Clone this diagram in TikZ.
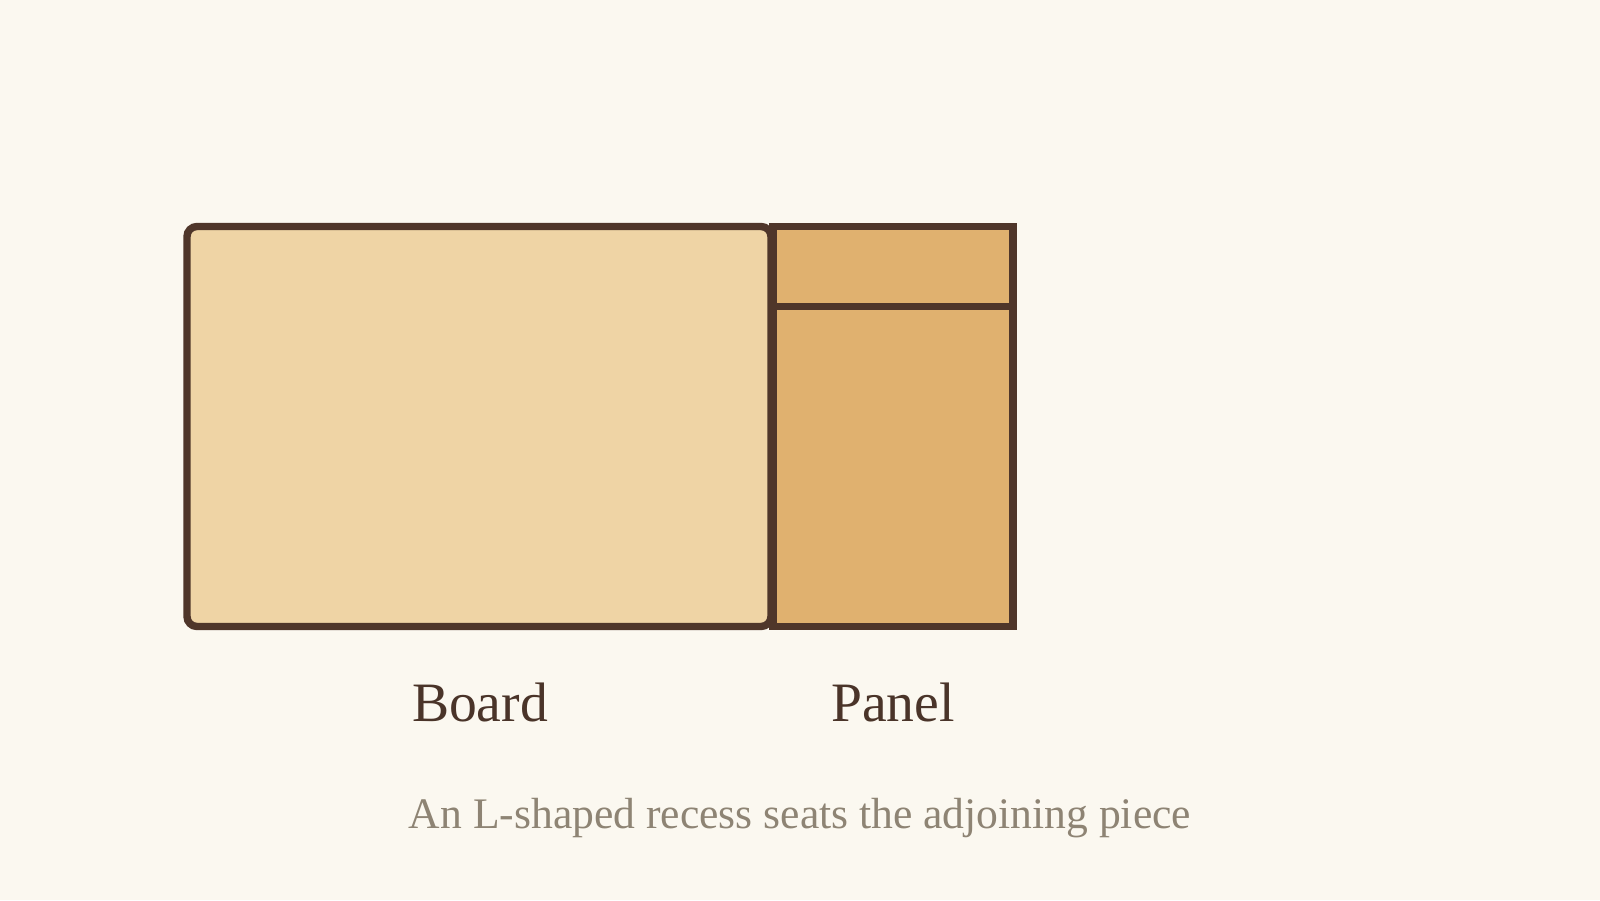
\documentclass[tikz,border=0pt]{standalone}
\usepackage{fontspec}
\setmainfont{Liberation Serif}
\usetikzlibrary{calc}
\definecolor{bgc}{HTML}{FBF8F0}
\definecolor{boardfill}{HTML}{EFD4A5}
\definecolor{panelfill}{HTML}{E0B16F}
\definecolor{strokec}{HTML}{4F362A}
\definecolor{labelc}{HTML}{4A3429}
\definecolor{capc}{HTML}{8E8474}
\begin{document}
\begin{tikzpicture}[x=0.5pt,y=-0.5pt,
  piece/.style={draw=strokec, line width=3.7pt, inner sep=0pt, outer sep=0pt},
  lbl/.style={text=labelc, font=\fontsize{27.8}{32}\selectfont, anchor=base, inner sep=0pt},
  captext/.style={text=capc, font=\fontsize{21.8}{26}\selectfont, anchor=base, inner sep=0pt}]
\fill[bgc] (0,0) rectangle (1600,900);
\useasboundingbox (0,0) rectangle (1600,900);
\node[piece, fill=boardfill, rounded corners=5pt, minimum width=292pt, minimum height=200pt] (board) at (479,426.5) {};
\node[piece, fill=panelfill, minimum width=120pt, minimum height=200pt] (panel) at (893,426.5) {};
\coordinate (dl) at ($(panel.north west)!0.2!(panel.south west)$);
\coordinate (dr) at ($(panel.north east)!0.2!(panel.south east)$);
\draw[strokec, line width=3.7pt] (dl) -- (dr);
\node[lbl] (boardlbl) at (480,721) {Board};
\node[lbl] (panellbl) at (893,721) {Panel};
\node[captext] (caption) at (800,828) {An L-shaped recess seats the adjoining piece};
\end{tikzpicture}
\end{document}
